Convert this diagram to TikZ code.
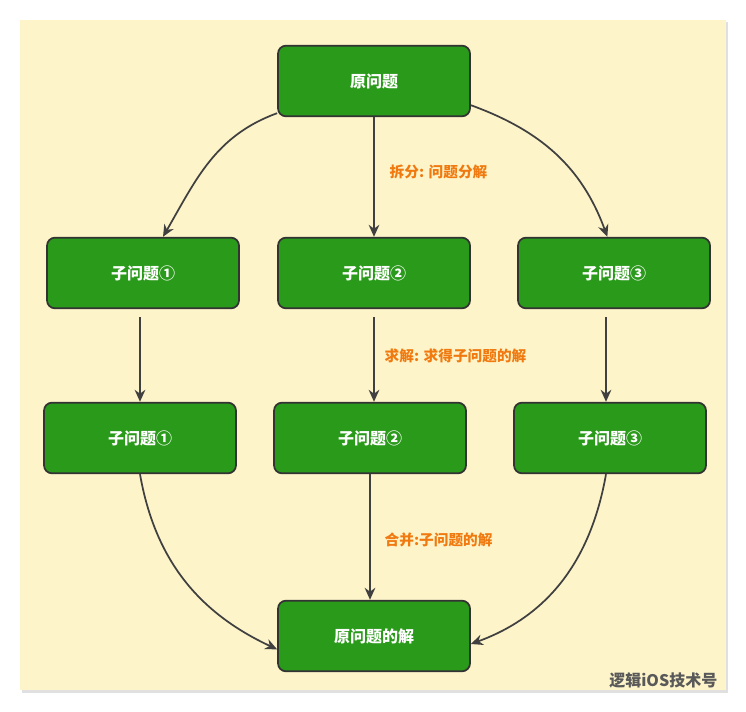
\documentclass[tikz,border=0pt]{standalone}
\usepackage{fontspec}
\setmainfont{Noto Sans CJK SC}
\usetikzlibrary{arrows.meta}
\definecolor{bggold}{HTML}{FDF4C9}
\definecolor{boxgreen}{HTML}{2A9A1A}
\definecolor{lblorange}{HTML}{F07A10}
\tikzset{
  prob/.style={draw=black!80, line width=1.3pt, fill=boxgreen, rounded corners=6pt,
    minimum width=144pt, minimum height=53pt, text=white, font=\bfseries\fontsize{12}{12}\selectfont},
  flow/.style={-{Stealth[length=9pt,width=8pt]}, draw=black!75, line width=1.3pt},
  note/.style={text=lblorange, anchor=west, font=\bfseries\fontsize{11}{11}\selectfont}
}
\begin{document}
\begin{tikzpicture}[x=0.75pt,y=-0.75pt]
  \useasboundingbox (0,0) rectangle (746,712);
  \fill[black!12] (22,22) rectangle (728,693);
  \fill[bggold] (20,20) rectangle (726,690);

  \node[prob] (top)  at (374,81)  {原问题};
  \node[prob] (s1)   at (143,273) {子问题①};
  \node[prob] (s2)   at (374,273) {子问题②};
  \node[prob] (s3)   at (614,273) {子问题③};
  \node[prob] (r1)   at (140,438) {子问题①};
  \node[prob] (r2)   at (370,438) {子问题②};
  \node[prob] (r3)   at (610,438) {子问题③};
  \node[prob] (ans)  at (374,636) {原问题的解};

  % split
  \draw[flow] (top.south west) ++(0,-4) to[out=200,in=60] ([xshift=15pt]s1.north);
  \draw[flow] (top.south) -- (s2.north);
  \draw[flow] (top.south east) ++(0,-12) to[out=-20,in=110] ([xshift=-5pt]s3.north);
  % solve
  \draw[flow] ([yshift=-6pt]r1.north |- s1.south) -- (r1.north);
  \draw[flow] ([yshift=-6pt]s2.south) -- (s2.south |- r2.north);
  \draw[flow] ([yshift=-6pt,xshift=-3pt]r3.north |- s3.south) -- ([xshift=-3pt]r3.north);
  % merge
  \draw[flow] (r1.south) to[out=-80,in=155] ([yshift=-10pt]ans.west);
  \draw[flow] (r2.south) -- (r2.south |- ans.north);
  \draw[flow] ([xshift=-3pt]r3.south) to[out=-100,in=20] ([yshift=-6pt]ans.east);

  \node[note] (lsplit) at (385,172) {拆分: 问题分解};
  \node[note] (lsolve) at (380,356) {求解: 求得子问题的解};
  \node[note] (lmerge) at (380,540) {合并:子问题的解};

  \node[text=black!65, anchor=east, font=\bfseries\fontsize{12}{12}\selectfont] (mark) at (722,680) {逻辑iOS技术号};
\end{tikzpicture}
\end{document}
